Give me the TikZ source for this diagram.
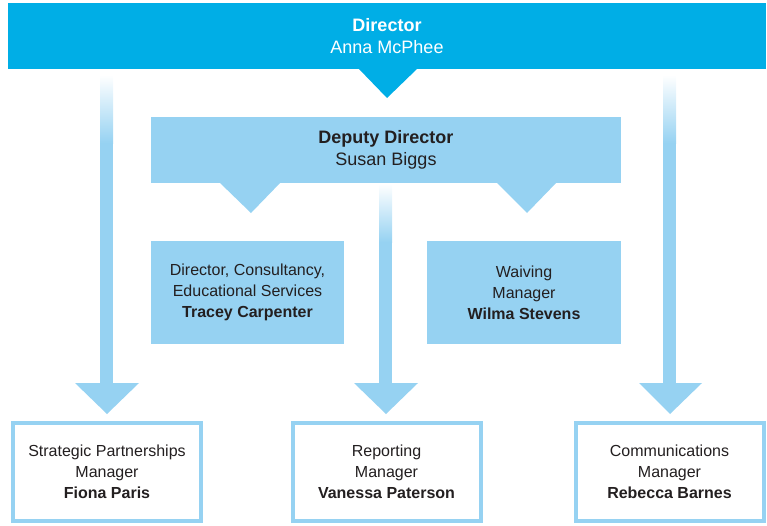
\documentclass[tikz,border=0pt]{standalone}
\usepackage{fontspec}
\setmainfont{Liberation Sans}
\definecolor{topblue}{HTML}{00AEE6}
\definecolor{paleblue}{HTML}{96D2F2}
\definecolor{ink}{HTML}{231F20}
\begin{document}
\begin{tikzpicture}[x=1pt,y=-1pt,
  banner/.style={fill=topblue,text=white,inner sep=0pt,minimum height=66pt,align=center,
    font=\fontsize{18}{22}\selectfont},
  deputy/.style={fill=paleblue,text=ink,inner sep=0pt,minimum height=66pt,align=center,
    font=\fontsize{18}{22}\selectfont},
  unitbox/.style={fill=paleblue,text=ink,inner sep=0pt,minimum width=193pt,minimum height=103pt,
    align=center,font=\fontsize{16}{21}\selectfont},
  staffbox/.style={draw=paleblue,line width=4pt,fill=white,text=ink,inner sep=0pt,
    minimum width=188pt,minimum height=98pt,align=center,font=\fontsize{16}{21}\selectfont},
  shaft/.style={fill=paleblue},
  fade/.style={top color=white,bottom color=paleblue}]
\useasboundingbox (0,0) rectangle (767,525);

% director banner with its pointer
\fill[topblue] (358,68) -- (387,98) -- (418,68) -- cycle;
\node[banner,minimum width=758pt] (dir) at (387,36) {\textbf{Director}\\Anna McPhee};

% side shafts from the director down to the outer managers
\shade[fade] (100,75) rectangle (113,143);
\fill[shaft] (100,143) rectangle (113,384);
\shade[fade] (663,75) rectangle (676,143);
\fill[shaft] (663,143) rectangle (676,384);

% deputy director and its pointers
\fill[paleblue] (219,182) -- (251,213) -- (281,182) -- cycle;
\fill[paleblue] (496,182) -- (527,213) -- (557,182) -- cycle;
\node[deputy,minimum width=470pt] (dep) at (386,150) {\textbf{Deputy Director}\\Susan Biggs};

% central shaft from the deputy
\shade[fade] (379,184) rectangle (392,242);
\fill[shaft] (379,242) rectangle (392,384);

% units under the deputy
\node[unitbox] (cons) at (247.5,292.5) {Director, Consultancy,\\Educational Services\\\textbf{Tracey Carpenter}};
\node[unitbox,minimum width=194pt] (waive) at (524,292.5) {Waiving\\Manager\\\textbf{Wilma Stevens}};

% arrow heads
\fill[paleblue] (75,383) -- (107,414) -- (139,383) -- cycle;
\fill[paleblue] (354,383) -- (386,414) -- (418,383) -- cycle;
\fill[paleblue] (639,383) -- (670,414) -- (702,383) -- cycle;

% managers
\node[staffbox] (strat) at (107,472) {Strategic Partnerships\\Manager\\\textbf{Fiona Paris}};
\node[staffbox] (rep) at (386.5,472) {Reporting\\Manager\\\textbf{Vanessa Paterson}};
\node[staffbox] (comm) at (669.5,472) {Communications\\Manager\\\textbf{Rebecca Barnes}};
\end{tikzpicture}
\end{document}
